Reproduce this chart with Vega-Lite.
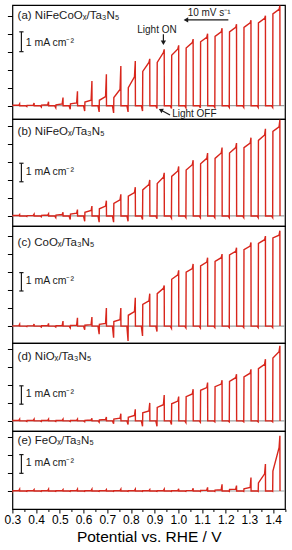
{
"$schema":"https://vega.github.io/schema/vega-lite/v6.json",
"padding":{"left":3.4,"right":7.7,"top":4,"bottom":0},
"bounds":"flush",
"spacing":0,
"config":{"view":{"stroke":"#000","strokeWidth":1.2},"font":"Liberation Sans"},
"datasets":{"curves":[
{"x":0.3,"a":0,"b":0,"c":0,"d":0,"e":0},
{"x":0.3005,"a":-0.03,"b":-0.02,"c":-0.03,"d":-0.03,"e":-0.02},
{"x":0.301,"a":0.02,"b":0.02,"c":0.01,"d":0.02,"e":0.01},
{"x":0.327,"a":0.02,"b":0.02,"c":0.01,"d":0.03,"e":0.02},
{"x":0.3305,"a":0.1,"b":0.08,"c":0.1,"d":0.1,"e":0.1},
{"x":0.331,"a":0,"b":0,"c":0,"d":0,"e":0},
{"x":0.356,"a":0,"b":0,"c":0,"d":0,"e":0},
{"x":0.361,"a":-0.05,"b":-0.03,"c":-0.03,"d":-0.03,"e":-0.02},
{"x":0.362,"a":0.02,"b":0.02,"c":0.01,"d":0.02,"e":0.01},
{"x":0.388,"a":0.03,"b":0.03,"c":0.02,"d":0.03,"e":0.02},
{"x":0.3915,"a":0.15,"b":0.1,"c":0.12,"d":0.1,"e":0.08},
{"x":0.392,"a":0,"b":0,"c":0,"d":0,"e":0},
{"x":0.417,"a":0,"b":0,"c":0,"d":0,"e":0},
{"x":0.422,"a":-0.08,"b":-0.05,"c":-0.05,"d":-0.03,"e":-0.02},
{"x":0.423,"a":0.03,"b":0.03,"c":0.02,"d":0.02,"e":0.01},
{"x":0.449,"a":0.05,"b":0.05,"c":0.02,"d":0.03,"e":0.02},
{"x":0.4525,"a":0.22,"b":0.12,"c":0.15,"d":0.1,"e":0.1},
{"x":0.453,"a":0,"b":0,"c":0,"d":0,"e":0},
{"x":0.478,"a":0,"b":0,"c":0,"d":0,"e":0},
{"x":0.483,"a":-0.12,"b":-0.1,"c":-0.05,"d":-0.03,"e":-0.02},
{"x":0.484,"a":0.05,"b":0.05,"c":0.02,"d":0.02,"e":0.01},
{"x":0.51,"a":0.1,"b":0.08,"c":0.03,"d":0.03,"e":0.02},
{"x":0.5135,"a":0.45,"b":0.2,"c":0.28,"d":0.1,"e":0.08},
{"x":0.514,"a":0,"b":0,"c":0,"d":0,"e":0},
{"x":0.539,"a":0,"b":0,"c":0,"d":0,"e":0},
{"x":0.544,"a":-0.2,"b":-0.2,"c":-0.1,"d":-0.03,"e":-0.02},
{"x":0.545,"a":0.1,"b":0.1,"c":0.03,"d":0.02,"e":0.01},
{"x":0.571,"a":0.15,"b":0.15,"c":0.05,"d":0.03,"e":0.02},
{"x":0.5745,"a":0.8,"b":0.35,"c":0.46,"d":0.1,"e":0.1},
{"x":0.575,"a":0,"b":0,"c":0,"d":0,"e":0},
{"x":0.6,"a":0,"b":0,"c":0,"d":0,"e":0},
{"x":0.605,"a":-0.3,"b":-0.3,"c":-0.2,"d":-0.05,"e":-0.02},
{"x":0.606,"a":0.2,"b":0.2,"c":0.05,"d":0.03,"e":0.01},
{"x":0.632,"a":0.3,"b":0.3,"c":0.08,"d":0.05,"e":0.02},
{"x":0.6355,"a":1.37,"b":0.55,"c":0.5,"d":0.15,"e":0.1},
{"x":0.636,"a":0,"b":0,"c":0,"d":0,"e":0},
{"x":0.661,"a":0,"b":0,"c":0,"d":0,"e":0},
{"x":0.666,"a":-0.35,"b":-0.35,"c":-0.45,"d":-0.08,"e":-0.02},
{"x":0.667,"a":0.3,"b":0.4,"c":0.1,"d":0.05,"e":0.01},
{"x":0.693,"a":0.5,"b":0.55,"c":0.15,"d":0.08,"e":0.02},
{"x":0.6965,"a":1.74,"b":0.85,"c":1.0,"d":0.22,"e":0.08},
{"x":0.697,"a":0,"b":0,"c":0,"d":0,"e":0},
{"x":0.722,"a":0,"b":0,"c":0,"d":0,"e":0},
{"x":0.727,"a":-0.4,"b":-0.35,"c":-0.65,"d":-0.15,"e":-0.02},
{"x":0.728,"a":0.45,"b":0.7,"c":0.25,"d":0.1,"e":0.01},
{"x":0.754,"a":0.9,"b":0.9,"c":0.35,"d":0.15,"e":0.02},
{"x":0.7575,"a":2.2,"b":1.2,"c":1.0,"d":0.4,"e":0.1},
{"x":0.758,"a":0,"b":0,"c":0,"d":0,"e":0},
{"x":0.783,"a":0,"b":0,"c":0,"d":0,"e":0},
{"x":0.788,"a":-0.35,"b":-0.3,"c":-0.83,"d":-0.2,"e":-0.02},
{"x":0.789,"a":1.0,"b":1.1,"c":0.6,"d":0.2,"e":0.01},
{"x":0.815,"a":1.6,"b":1.3,"c":0.8,"d":0.3,"e":0.02},
{"x":0.8185,"a":2.48,"b":1.6,"c":1.57,"d":0.65,"e":0.1},
{"x":0.819,"a":0,"b":0,"c":0,"d":0,"e":0},
{"x":0.844,"a":0,"b":0,"c":0,"d":0,"e":0},
{"x":0.849,"a":-0.3,"b":-0.2,"c":-0.55,"d":-0.3,"e":-0.02},
{"x":0.85,"a":1.9,"b":1.45,"c":1.2,"d":0.45,"e":0.01},
{"x":0.876,"a":2.4,"b":1.75,"c":1.4,"d":0.55,"e":0.02},
{"x":0.8795,"a":2.6,"b":2.0,"c":1.8,"d":1.0,"e":0.08},
{"x":0.88,"a":0,"b":0,"c":0,"d":0,"e":0},
{"x":0.905,"a":0,"b":0,"c":0,"d":0,"e":0},
{"x":0.91,"a":-0.15,"b":-0.15,"c":-0.3,"d":-0.3,"e":-0.02},
{"x":0.911,"a":2.4,"b":1.8,"c":1.8,"d":0.75,"e":0.01},
{"x":0.937,"a":2.95,"b":2.15,"c":2.1,"d":0.9,"e":0.02},
{"x":0.9405,"a":3.13,"b":2.4,"c":2.25,"d":1.44,"e":0.1},
{"x":0.941,"a":0,"b":0,"c":0,"d":0,"e":0},
{"x":0.966,"a":0,"b":0,"c":0,"d":0,"e":0},
{"x":0.971,"a":-0.15,"b":-0.12,"c":-0.12,"d":-0.2,"e":-0.02},
{"x":0.972,"a":2.8,"b":2.2,"c":2.6,"d":0.95,"e":0.01},
{"x":0.998,"a":3.15,"b":2.5,"c":2.85,"d":1.1,"e":0.02},
{"x":1.0015,"a":3.35,"b":2.75,"c":3.1,"d":1.35,"e":0.12},
{"x":1.002,"a":0,"b":0,"c":0,"d":0,"e":0},
{"x":1.027,"a":0,"b":0,"c":0,"d":0,"e":0},
{"x":1.032,"a":-0.12,"b":-0.1,"c":-0.1,"d":-0.1,"e":-0.02},
{"x":1.033,"a":3.2,"b":2.55,"c":3.0,"d":1.35,"e":0.02},
{"x":1.059,"a":3.5,"b":2.85,"c":3.2,"d":1.5,"e":0.03},
{"x":1.0625,"a":3.7,"b":3.1,"c":3.45,"d":1.76,"e":0.15},
{"x":1.063,"a":0,"b":0,"c":0,"d":0,"e":0},
{"x":1.088,"a":0,"b":0,"c":0,"d":0,"e":0},
{"x":1.093,"a":-0.12,"b":-0.1,"c":-0.1,"d":-0.08,"e":-0.03},
{"x":1.094,"a":3.55,"b":2.9,"c":3.35,"d":1.7,"e":0.03},
{"x":1.12,"a":3.8,"b":3.2,"c":3.55,"d":1.85,"e":0.05},
{"x":1.1235,"a":4.0,"b":3.5,"c":3.8,"d":2.13,"e":0.2},
{"x":1.124,"a":0,"b":0,"c":0,"d":0,"e":0},
{"x":1.149,"a":0,"b":0,"c":0,"d":0,"e":0},
{"x":1.154,"a":-0.1,"b":-0.1,"c":-0.08,"d":-0.05,"e":-0.03},
{"x":1.155,"a":3.85,"b":3.2,"c":3.6,"d":1.9,"e":0.05},
{"x":1.181,"a":4.1,"b":3.5,"c":3.8,"d":2.05,"e":0.07},
{"x":1.1845,"a":4.3,"b":3.8,"c":4.0,"d":2.26,"e":0.37},
{"x":1.185,"a":0,"b":0,"c":0,"d":0,"e":0},
{"x":1.21,"a":0,"b":0,"c":0,"d":0,"e":0},
{"x":1.215,"a":-0.1,"b":-0.1,"c":-0.08,"d":-0.05,"e":-0.03},
{"x":1.216,"a":4.1,"b":3.5,"c":3.95,"d":2.2,"e":0.08},
{"x":1.242,"a":4.35,"b":3.8,"c":4.15,"d":2.4,"e":0.1},
{"x":1.2455,"a":4.52,"b":4.05,"c":4.35,"d":2.6,"e":0.3},
{"x":1.246,"a":0,"b":0,"c":0,"d":0,"e":0},
{"x":1.271,"a":0,"b":0,"c":0,"d":0,"e":0},
{"x":1.276,"a":-0.1,"b":-0.1,"c":-0.08,"d":-0.05,"e":-0.03},
{"x":1.277,"a":4.35,"b":3.8,"c":4.25,"d":2.45,"e":0.12},
{"x":1.303,"a":4.6,"b":4.05,"c":4.45,"d":2.65,"e":0.2},
{"x":1.3065,"a":4.75,"b":4.35,"c":4.65,"d":2.87,"e":0.75},
{"x":1.307,"a":0,"b":0,"c":0,"d":0,"e":0},
{"x":1.332,"a":0,"b":0,"c":0,"d":0,"e":0},
{"x":1.337,"a":-0.1,"b":-0.1,"c":-0.08,"d":-0.05,"e":-0.03},
{"x":1.338,"a":4.6,"b":4.2,"c":4.6,"d":2.9,"e":0.45},
{"x":1.364,"a":4.85,"b":4.5,"c":4.8,"d":3.15,"e":0.95},
{"x":1.3675,"a":5.0,"b":4.85,"c":5.0,"d":3.43,"e":1.5},
{"x":1.368,"a":0,"b":0,"c":0,"d":0,"e":0},
{"x":1.393,"a":0,"b":0,"c":0,"d":0,"e":0},
{"x":1.398,"a":-0.1,"b":-0.1,"c":-0.08,"d":-0.05,"e":-0.03},
{"x":1.399,"a":5.1,"b":4.7,"c":4.9,"d":3.5,"e":1.1},
{"x":1.425,"a":5.35,"b":4.95,"c":5.05,"d":3.85,"e":2.4},
{"x":1.4285,"a":5.55,"b":5.35,"c":5.3,"d":4.17,"e":3.06},
{"x":1.429,"a":0,"b":0,"c":0,"d":0,"e":0}
]},
"vconcat":[
{"width":272.6,"height":114,"resolve":{"axis":{"x":"independent","y":"independent"}},"layer":[
 {"data":{"values":[{}]},"mark":{"type":"rule","color":"#a0a0a0","strokeWidth":1.2},"encoding":{"y":{"datum":0,"scale":{"domain":[-0.74,5.59],"nice":false,"zero":false},"axis":null}}},
 {"data":{"name":"curves"},"mark":{"type":"line","color":"#d8261c","strokeWidth":1.4,"clip":true},"encoding":{"x":{"field":"x","type":"quantitative","scale":{"domain":[0.3,1.45],"nice":false,"zero":false},"axis":null},"y":{"field":"a","type":"quantitative","scale":{"domain":[-0.74,5.59],"nice":false,"zero":false},"axis":{"values":[0,1,2,3,4,5],"title":null,"labels":false,"domain":false,"grid":false,"tickSize":5,"tickColor":"#000","minExtent":5,"maxExtent":5}}}},
 {"data":{"values":[{}]},"mark":{"type":"text","align":"left","baseline":"middle","fontSize":11.5,"color":"#1a1a1a"},"encoding":{"x":{"datum":0.322,"axis":null},"y":{"datum":4.96,"axis":null},"text":{"value":"(a) NiFeCoOₓ/Ta₃N₅"}}},
 {"data":{"values":[{}]},"mark":{"type":"rule","color":"#1a1a1a","strokeWidth":1.2},"encoding":{"x":{"datum":0.338,"axis":null},"y":{"datum":3.0,"axis":null},"y2":{"datum":4.1}}},
 {"data":{"values":[{}]},"mark":{"type":"rule","color":"#1a1a1a","strokeWidth":1.2},"encoding":{"x":{"datum":0.329,"axis":null},"x2":{"datum":0.347},"y":{"datum":3.0,"axis":null}}},
 {"data":{"values":[{}]},"mark":{"type":"rule","color":"#1a1a1a","strokeWidth":1.2},"encoding":{"x":{"datum":0.329,"axis":null},"x2":{"datum":0.347},"y":{"datum":4.1,"axis":null}}},
 {"data":{"values":[{}]},"mark":{"type":"text","align":"left","baseline":"middle","fontSize":10.5,"color":"#1a1a1a"},"encoding":{"x":{"datum":0.356,"axis":null},"y":{"datum":3.5,"axis":null},"text":{"value":"1 mA cm⁻²"}}},
 {"data":{"values":[{}]},"mark":{"type":"text","align":"center","baseline":"middle","fontSize":10,"color":"#1a1a1a"},"encoding":{"x":{"datum":1.13,"axis":null},"y":{"datum":5.17,"axis":null},"text":{"value":"10 mV s⁻¹"}}},
 {"data":{"values":[{}]},"mark":{"type":"rule","color":"#1a1a1a","strokeWidth":1.2},"encoding":{"x":{"datum":1.035,"axis":null},"x2":{"datum":1.211},"y":{"datum":4.76,"axis":null}}},
 {"data":{"values":[{}]},"mark":{"type":"point","shape":"triangle-left","filled":true,"size":28,"color":"#1a1a1a","opacity":1},"encoding":{"x":{"datum":1.032,"axis":null},"y":{"datum":4.76,"axis":null}}},
 {"data":{"values":[{}]},"mark":{"type":"text","align":"center","baseline":"middle","fontSize":10,"color":"#1a1a1a"},"encoding":{"x":{"datum":0.91,"axis":null},"y":{"datum":4.18,"axis":null},"text":{"value":"Light ON"}}},
 {"data":{"values":[{}]},"mark":{"type":"rule","color":"#1a1a1a","strokeWidth":1.2},"encoding":{"x":{"datum":0.937,"axis":null},"y":{"datum":3.55,"axis":null},"y2":{"datum":3.97}}},
 {"data":{"values":[{}]},"mark":{"type":"point","shape":"triangle-down","filled":true,"size":28,"color":"#1a1a1a","opacity":1},"encoding":{"x":{"datum":0.937,"axis":null},"y":{"datum":3.49,"axis":null}}},
 {"data":{"values":[{}]},"mark":{"type":"text","align":"left","baseline":"middle","fontSize":10,"color":"#1a1a1a"},"encoding":{"x":{"datum":0.974,"axis":null},"y":{"datum":-0.47,"axis":null},"text":{"value":"Light OFF"}}},
 {"data":{"values":[{}]},"mark":{"type":"rule","color":"#1a1a1a","strokeWidth":1.2},"encoding":{"x":{"datum":0.965,"axis":null},"x2":{"datum":0.928},"y":{"datum":-0.52,"axis":null},"y2":{"datum":-0.25}}},
 {"data":{"values":[{}]},"mark":{"type":"point","shape":"triangle-left","filled":true,"size":24,"angle":28,"color":"#1a1a1a","opacity":1},"encoding":{"x":{"datum":0.926,"axis":null},"y":{"datum":-0.24,"axis":null}}}
]},
{"width":272.6,"height":107,"resolve":{"axis":{"x":"independent","y":"independent"}},"layer":[
 {"data":{"values":[{}]},"mark":{"type":"rule","color":"#a0a0a0","strokeWidth":1.2},"encoding":{"y":{"datum":0,"scale":{"domain":[-0.56,5.39],"nice":false,"zero":false},"axis":null}}},
 {"data":{"name":"curves"},"mark":{"type":"line","color":"#d8261c","strokeWidth":1.4,"clip":true},"encoding":{"x":{"field":"x","type":"quantitative","scale":{"domain":[0.3,1.45],"nice":false,"zero":false},"axis":null},"y":{"field":"b","type":"quantitative","scale":{"domain":[-0.56,5.39],"nice":false,"zero":false},"axis":{"values":[0,1,2,3,4,5],"title":null,"labels":false,"domain":false,"grid":false,"tickSize":5,"tickColor":"#000","minExtent":5,"maxExtent":5}}}},
 {"data":{"values":[{}]},"mark":{"type":"text","align":"left","baseline":"middle","fontSize":11.5,"color":"#1a1a1a"},"encoding":{"x":{"datum":0.322,"axis":null},"y":{"datum":4.67,"axis":null},"text":{"value":"(b) NiFeOₓ/Ta₃N₅"}}},
 {"data":{"values":[{}]},"mark":{"type":"rule","color":"#1a1a1a","strokeWidth":1.2},"encoding":{"x":{"datum":0.338,"axis":null},"y":{"datum":1.9,"axis":null},"y2":{"datum":2.93}}},
 {"data":{"values":[{}]},"mark":{"type":"rule","color":"#1a1a1a","strokeWidth":1.2},"encoding":{"x":{"datum":0.329,"axis":null},"x2":{"datum":0.347},"y":{"datum":1.9,"axis":null}}},
 {"data":{"values":[{}]},"mark":{"type":"rule","color":"#1a1a1a","strokeWidth":1.2},"encoding":{"x":{"datum":0.329,"axis":null},"x2":{"datum":0.347},"y":{"datum":2.93,"axis":null}}},
 {"data":{"values":[{}]},"mark":{"type":"text","align":"left","baseline":"middle","fontSize":10.5,"color":"#1a1a1a"},"encoding":{"x":{"datum":0.356,"axis":null},"y":{"datum":2.45,"axis":null},"text":{"value":"1 mA cm⁻²"}}}
]},
{"width":272.6,"height":117,"resolve":{"axis":{"x":"independent","y":"independent"}},"layer":[
 {"data":{"values":[{}]},"mark":{"type":"rule","color":"#a0a0a0","strokeWidth":1.2},"encoding":{"y":{"datum":0,"scale":{"domain":[-0.94,5.56],"nice":false,"zero":false},"axis":null}}},
 {"data":{"name":"curves"},"mark":{"type":"line","color":"#d8261c","strokeWidth":1.4,"clip":true},"encoding":{"x":{"field":"x","type":"quantitative","scale":{"domain":[0.3,1.45],"nice":false,"zero":false},"axis":null},"y":{"field":"c","type":"quantitative","scale":{"domain":[-0.94,5.56],"nice":false,"zero":false},"axis":{"values":[0,1,2,3,4,5],"title":null,"labels":false,"domain":false,"grid":false,"tickSize":5,"tickColor":"#000","minExtent":5,"maxExtent":5}}}},
 {"data":{"values":[{}]},"mark":{"type":"text","align":"left","baseline":"middle","fontSize":11.5,"color":"#1a1a1a"},"encoding":{"x":{"datum":0.322,"axis":null},"y":{"datum":4.64,"axis":null},"text":{"value":"(c) CoOₓ/Ta₃N₅"}}},
 {"data":{"values":[{}]},"mark":{"type":"rule","color":"#1a1a1a","strokeWidth":1.2},"encoding":{"x":{"datum":0.338,"axis":null},"y":{"datum":1.95,"axis":null},"y2":{"datum":2.97}}},
 {"data":{"values":[{}]},"mark":{"type":"rule","color":"#1a1a1a","strokeWidth":1.2},"encoding":{"x":{"datum":0.329,"axis":null},"x2":{"datum":0.347},"y":{"datum":1.95,"axis":null}}},
 {"data":{"values":[{}]},"mark":{"type":"rule","color":"#1a1a1a","strokeWidth":1.2},"encoding":{"x":{"datum":0.329,"axis":null},"x2":{"datum":0.347},"y":{"datum":2.97,"axis":null}}},
 {"data":{"values":[{}]},"mark":{"type":"text","align":"left","baseline":"middle","fontSize":10.5,"color":"#1a1a1a"},"encoding":{"x":{"datum":0.356,"axis":null},"y":{"datum":2.5,"axis":null},"text":{"value":"1 mA cm⁻²"}}}
]},
{"width":272.6,"height":88,"resolve":{"axis":{"x":"independent","y":"independent"}},"layer":[
 {"data":{"values":[{}]},"mark":{"type":"rule","color":"#a0a0a0","strokeWidth":1.2},"encoding":{"y":{"datum":0,"scale":{"domain":[-0.56,4.33],"nice":false,"zero":false},"axis":null}}},
 {"data":{"name":"curves"},"mark":{"type":"line","color":"#d8261c","strokeWidth":1.4,"clip":true},"encoding":{"x":{"field":"x","type":"quantitative","scale":{"domain":[0.3,1.45],"nice":false,"zero":false},"axis":null},"y":{"field":"d","type":"quantitative","scale":{"domain":[-0.56,4.33],"nice":false,"zero":false},"axis":{"values":[0,1,2,3,4],"title":null,"labels":false,"domain":false,"grid":false,"tickSize":5,"tickColor":"#000","minExtent":5,"maxExtent":5}}}},
 {"data":{"values":[{}]},"mark":{"type":"text","align":"left","baseline":"middle","fontSize":11.5,"color":"#1a1a1a"},"encoding":{"x":{"datum":0.322,"axis":null},"y":{"datum":3.53,"axis":null},"text":{"value":"(d) NiOₓ/Ta₃N₅"}}},
 {"data":{"values":[{}]},"mark":{"type":"rule","color":"#1a1a1a","strokeWidth":1.2},"encoding":{"x":{"datum":0.338,"axis":null},"y":{"datum":0.93,"axis":null},"y2":{"datum":1.95}}},
 {"data":{"values":[{}]},"mark":{"type":"rule","color":"#1a1a1a","strokeWidth":1.2},"encoding":{"x":{"datum":0.329,"axis":null},"x2":{"datum":0.347},"y":{"datum":0.93,"axis":null}}},
 {"data":{"values":[{}]},"mark":{"type":"rule","color":"#1a1a1a","strokeWidth":1.2},"encoding":{"x":{"datum":0.329,"axis":null},"x2":{"datum":0.347},"y":{"datum":1.95,"axis":null}}},
 {"data":{"values":[{}]},"mark":{"type":"text","align":"left","baseline":"middle","fontSize":10.5,"color":"#1a1a1a"},"encoding":{"x":{"datum":0.356,"axis":null},"y":{"datum":1.52,"axis":null},"text":{"value":"1 mA cm⁻²"}}}
]},
{"width":272.6,"height":78,"resolve":{"axis":{"x":"independent","y":"independent"}},"layer":[
 {"data":{"values":[{}]},"mark":{"type":"rule","color":"#a0a0a0","strokeWidth":1.2},"encoding":{"y":{"datum":0,"scale":{"domain":[-1.0,3.33],"nice":false,"zero":false},"axis":null}}},
 {"data":{"name":"curves"},"mark":{"type":"line","color":"#d8261c","strokeWidth":1.4,"clip":true},"encoding":{"x":{"field":"x","type":"quantitative","scale":{"domain":[0.3,1.45],"nice":false,"zero":false},"axis":{"values":[0.3,0.35,0.4,0.45,0.5,0.55,0.6,0.65,0.7,0.75,0.8,0.85,0.9,0.95,1.0,1.05,1.1,1.15,1.2,1.25,1.3,1.35,1.4,1.45],"title":"Potential vs. RHE / V","labelExpr":"abs(datum.value*10 - round(datum.value*10)) < 0.001 ? format(datum.value, '.1f') : ''","tickSize":{"condition":{"test":"abs(datum.value*10 - round(datum.value*10)) < 0.001","value":4},"value":2.5},"tickColor":"#000","tickWidth":1,"domain":false,"grid":false,"labelFontSize":12,"labelColor":"#000","labelPadding":2,"labelFlush":false,"labelOverlap":false,"labelBound":false,"titleFontSize":15.5,"titleFontWeight":"normal","titleColor":"#000","titlePadding":4}},"y":{"field":"e","type":"quantitative","scale":{"domain":[-1.0,3.33],"nice":false,"zero":false},"axis":{"values":[0,1,2,3],"title":null,"labels":false,"domain":false,"grid":false,"tickSize":5,"tickColor":"#000","minExtent":5,"maxExtent":5}}}},
 {"data":{"values":[{}]},"mark":{"type":"text","align":"left","baseline":"middle","fontSize":11.5,"color":"#1a1a1a"},"encoding":{"x":{"datum":0.322,"axis":null},"y":{"datum":2.78,"axis":null},"text":{"value":"(e) FeOₓ/Ta₃N₅"}}},
 {"data":{"values":[{}]},"mark":{"type":"rule","color":"#1a1a1a","strokeWidth":1.2},"encoding":{"x":{"datum":0.338,"axis":null},"y":{"datum":0.98,"axis":null},"y2":{"datum":2.02}}},
 {"data":{"values":[{}]},"mark":{"type":"rule","color":"#1a1a1a","strokeWidth":1.2},"encoding":{"x":{"datum":0.329,"axis":null},"x2":{"datum":0.347},"y":{"datum":0.98,"axis":null}}},
 {"data":{"values":[{}]},"mark":{"type":"rule","color":"#1a1a1a","strokeWidth":1.2},"encoding":{"x":{"datum":0.329,"axis":null},"x2":{"datum":0.347},"y":{"datum":2.02,"axis":null}}},
 {"data":{"values":[{}]},"mark":{"type":"text","align":"left","baseline":"middle","fontSize":10.5,"color":"#1a1a1a"},"encoding":{"x":{"datum":0.356,"axis":null},"y":{"datum":1.55,"axis":null},"text":{"value":"1 mA cm⁻²"}}}
]}
]
}
